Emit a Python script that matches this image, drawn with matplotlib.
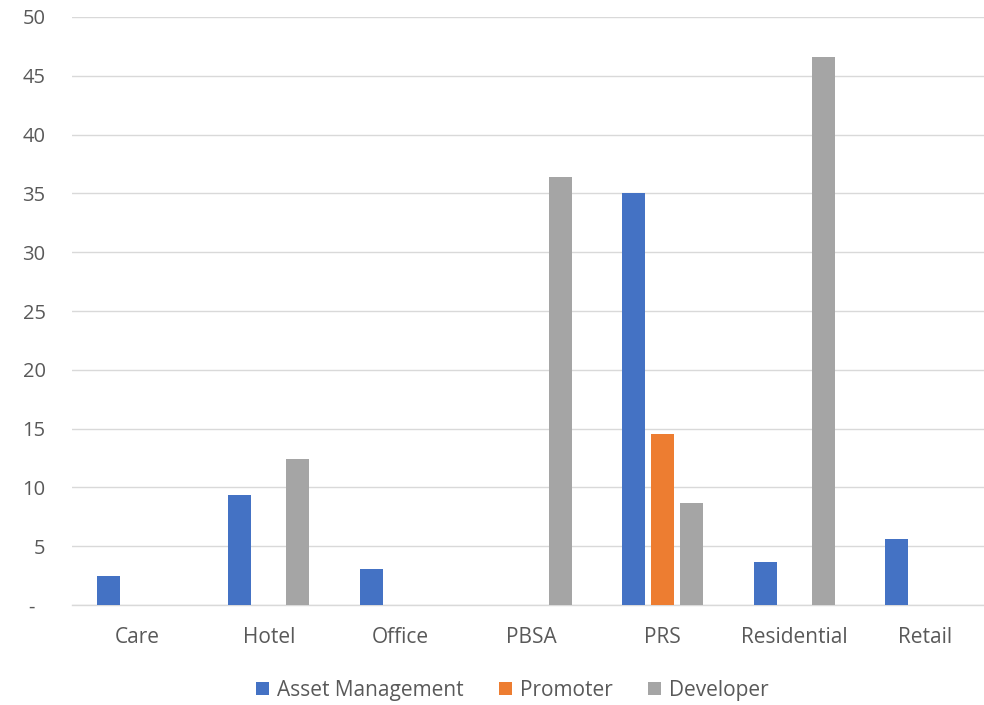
import numpy as np
import matplotlib
matplotlib.use('Agg')
import matplotlib.pyplot as plt

# Chart data
categories = ['Care', 'Hotel', 'Office', 'PBSA', 'PRS', 'Residential', 'Retail']
asset_management = [2.45, 9.35, 3.05, 0, 35.0, 3.7, 5.6]
promoter = [0, 0, 0, 0, 14.5, 0, 0]
developer = [0, 12.45, 0, 36.4, 8.7, 46.6, 0]
series_names = ['Asset Management', 'Promoter', 'Developer']
colors = ['#4472C4', '#ED7D31', '#A5A5A5']
y_ticks = list(range(0, 51, 5))

text_color = '#595959'
grid_color = '#D9D9D9'
plt.rcParams['font.family'] = ['Open Sans', 'DejaVu Sans']

fig = plt.figure(figsize=(9.84, 7.05), dpi=100)
ax = fig.add_axes([0.0732, 0.1418, 0.934, 0.8341])

x = np.arange(len(categories))
bar_w = 0.175
offset = 0.221
for i, (name, vals, col) in enumerate(zip(series_names, [asset_management, promoter, developer], colors)):
    ax.bar(x + (i - 1) * offset, vals, width=bar_w, color=col, label=name, zorder=3)

ax.set_xlim(-0.5, len(categories) - 0.5)
ax.set_ylim(0, 50)
ax.set_yticks(y_ticks)
ax.set_yticklabels(['-  ' if t == 0 else str(t) for t in y_ticks])
ax.set_xticks(x)
ax.set_xticklabels(categories)

ax.grid(axis='y', color=grid_color, linewidth=1.0, zorder=0)
for side in ['top', 'right', 'left']:
    ax.spines[side].set_visible(False)
ax.spines['bottom'].set_color(grid_color)
ax.spines['bottom'].set_linewidth(1.0)
ax.tick_params(axis='y', length=0, pad=19, labelsize=14.5, labelcolor=text_color)
ax.tick_params(axis='x', length=0, pad=16, labelsize=15, labelcolor=text_color)

fig.legend(loc='center', bbox_to_anchor=(0.521, 0.021), ncol=3, frameon=False,
           fontsize=15, labelcolor=text_color, handlelength=0.6, handleheight=0.6,
           handletextpad=0.4, columnspacing=1.7)

fig.savefig('out.png', dpi=100)
